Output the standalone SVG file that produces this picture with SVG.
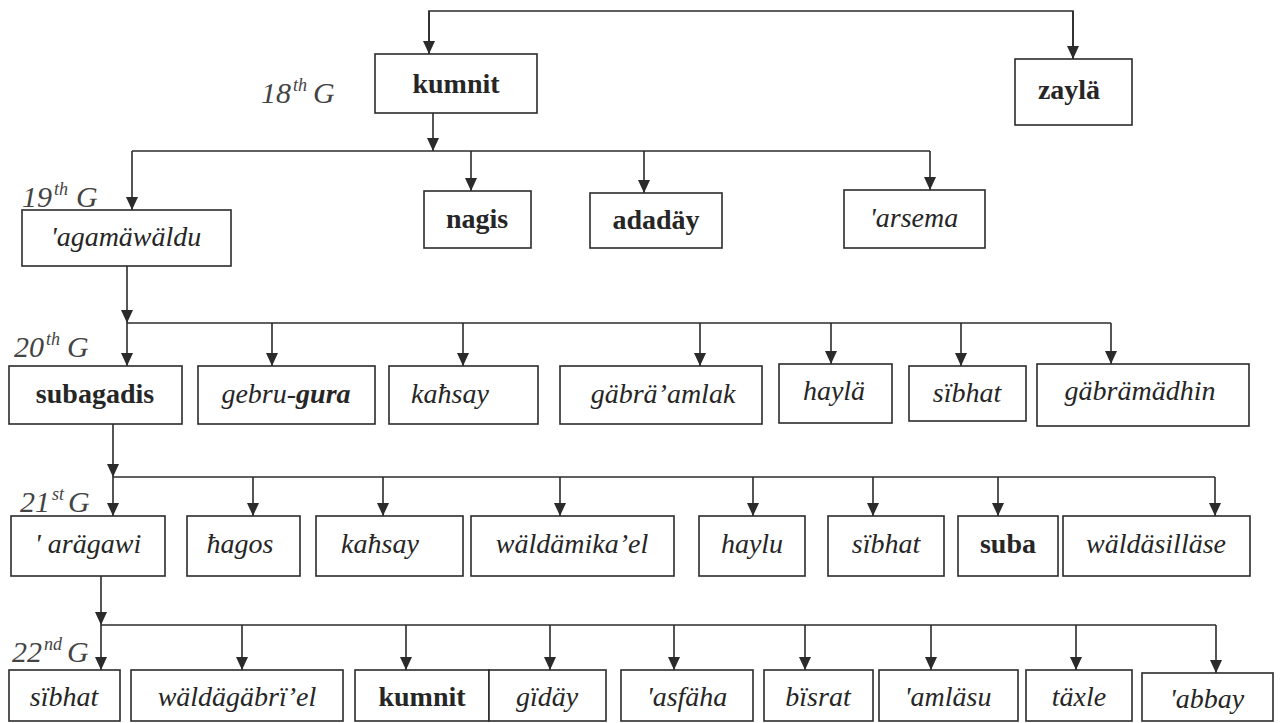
<svg xmlns="http://www.w3.org/2000/svg" width="1282" height="723" viewBox="0 0 1282 723">
<defs>
<marker id="ah" viewBox="0 0 13 12" markerWidth="13" markerHeight="12" refX="13" refY="6" orient="auto" markerUnits="userSpaceOnUse">
<path d="M0,0 L13,6 L0,12 z" fill="#2b2b2b"/>
</marker>
<style>
.b{fill:#fff;stroke:#2b2b2b;stroke-width:1.6}
.c{fill:none;stroke:#2b2b2b;stroke-width:1.6}
.a{fill:none;stroke:#2b2b2b;stroke-width:1.6;marker-end:url(#ah)}
text{font-family:"Liberation Serif","Times New Roman",serif;font-size:28px;fill:#262626;text-anchor:middle}
.bd{font-weight:bold}
.it{font-style:italic}
.lbl{font-style:italic;text-anchor:start;fill:#444;font-size:30px}
.sup{font-style:italic;text-anchor:start;fill:#444;font-size:18px}
</style>
</defs>
<rect width="1282" height="723" fill="#fff"/>
<g id="connectors">
<path class="c" d="M429,54 V11 H1073 V59"/>
<line class="a" x1="429" y1="11" x2="429" y2="54"/>
<line class="a" x1="1073" y1="11" x2="1073" y2="59"/>
<line class="a" x1="433" y1="113" x2="433" y2="151"/>
<line class="c" x1="132" y1="151" x2="930" y2="151"/>
<line class="a" x1="132" y1="151" x2="132" y2="210"/>
<line class="a" x1="471" y1="151" x2="471" y2="191"/>
<line class="a" x1="644" y1="151" x2="644" y2="193"/>
<line class="a" x1="930" y1="151" x2="930" y2="190"/>
<line class="a" x1="127" y1="266" x2="127" y2="323"/>
<line class="c" x1="127" y1="323" x2="1111" y2="323"/>
<line class="a" x1="127" y1="323" x2="127" y2="366"/>
<line class="a" x1="272" y1="323" x2="272" y2="366"/>
<line class="a" x1="463" y1="323" x2="463" y2="366"/>
<line class="a" x1="700" y1="323" x2="700" y2="366"/>
<line class="a" x1="831" y1="323" x2="831" y2="364"/>
<line class="a" x1="961" y1="323" x2="961" y2="366"/>
<line class="a" x1="1111" y1="323" x2="1111" y2="364"/>
<line class="a" x1="113" y1="424" x2="113" y2="477"/>
<line class="c" x1="113" y1="477" x2="1215" y2="477"/>
<line class="a" x1="113" y1="477" x2="113" y2="516"/>
<line class="a" x1="253" y1="477" x2="253" y2="516"/>
<line class="a" x1="383" y1="477" x2="383" y2="516"/>
<line class="a" x1="560" y1="477" x2="560" y2="516"/>
<line class="a" x1="753" y1="477" x2="753" y2="516"/>
<line class="a" x1="873" y1="477" x2="873" y2="516"/>
<line class="a" x1="998" y1="477" x2="998" y2="516"/>
<line class="a" x1="1215" y1="477" x2="1215" y2="516"/>
<line class="a" x1="101" y1="576" x2="101" y2="625"/>
<line class="c" x1="101" y1="625" x2="1216" y2="625"/>
<line class="a" x1="101" y1="625" x2="101" y2="670"/>
<line class="a" x1="242" y1="625" x2="242" y2="670"/>
<line class="a" x1="406" y1="625" x2="406" y2="670"/>
<line class="a" x1="550" y1="625" x2="550" y2="670"/>
<line class="a" x1="674" y1="625" x2="674" y2="670"/>
<line class="a" x1="805" y1="625" x2="805" y2="670"/>
<line class="a" x1="931" y1="625" x2="931" y2="670"/>
<line class="a" x1="1076" y1="625" x2="1076" y2="670"/>
<line class="a" x1="1216" y1="625" x2="1216" y2="673"/>
</g>
<g id="labels">
<g id="lbl18"><text class="lbl" x="261" y="103">18</text><text class="sup" x="293" y="91">th</text><text class="lbl" x="313" y="103">G</text></g>
<g id="lbl19"><text class="lbl" x="22" y="207">19</text><text class="sup" x="54" y="195">th</text><text class="lbl" x="76" y="207">G</text></g>
<g id="lbl20"><text class="lbl" x="14" y="357">20</text><text class="sup" x="46" y="345">th</text><text class="lbl" x="67" y="357">G</text></g>
<g id="lbl21"><text class="lbl" x="20" y="512">21</text><text class="sup" x="52" y="500">st</text><text class="lbl" x="68" y="512">G</text></g>
<g id="lbl22"><text class="lbl" x="12" y="662">22</text><text class="sup" x="44" y="650">nd</text><text class="lbl" x="67" y="662">G</text></g>
</g>
<g id="n-kumnit18"><rect class="b" x="375" y="54" width="162" height="59"/><text class="bd" x="456" y="93">kumnit</text></g>
<g id="n-zayla"><rect class="b" x="1015" y="59" width="117" height="66"/><text class="bd" x="1069" y="99">zaylä</text></g>
<g id="n-agamawaldu"><rect class="b" x="22" y="210" width="209" height="56"/><text class="it" x="126" y="246">'agamäwäldu</text></g>
<g id="n-nagis"><rect class="b" x="424" y="191" width="107" height="57"/><text class="bd" x="477" y="228">nagis</text></g>
<g id="n-adaday"><rect class="b" x="590" y="193" width="132" height="55"/><text class="bd" x="656" y="229">adadäy</text></g>
<g id="n-arsema"><rect class="b" x="844" y="190" width="141" height="58"/><text class="it" x="914" y="227">'arsema</text></g>
<g id="n-subagadis"><rect class="b" x="9" y="366" width="173" height="58"/><text class="bd" x="95" y="403">subagadis</text></g>
<g id="n-gebrugura"><rect class="b" x="198" y="366" width="177" height="58"/><text class="it" x="286" y="403">gebru-<tspan class="bd">gura</tspan></text></g>
<g id="n-kahsay20"><rect class="b" x="389" y="366" width="149" height="58"/><text class="it" x="450" y="403">kaħsay</text></g>
<g id="n-gabraamlak"><rect class="b" x="560" y="366" width="202" height="58"/><text class="it" x="663" y="403">gäbrä’amlak</text></g>
<g id="n-hayla"><rect class="b" x="779" y="364" width="113" height="59"/><text class="it" x="834" y="400">haylä</text></g>
<g id="n-sibhat20"><rect class="b" x="909" y="366" width="117" height="55"/><text class="it" x="967" y="402">sïbhat</text></g>
<g id="n-gabramadhin"><rect class="b" x="1037" y="364" width="212" height="62"/><text class="it" x="1140" y="400">gäbrämädhin</text></g>
<g id="n-aragawi"><rect class="b" x="11" y="516" width="154" height="60"/><text class="it" x="88" y="553">' arägawi</text></g>
<g id="n-hagos"><rect class="b" x="187" y="516" width="113" height="60"/><text class="it" x="240" y="553">ħagos</text></g>
<g id="n-kahsay21"><rect class="b" x="316" y="516" width="147" height="60"/><text class="it" x="380" y="553">kaħsay</text></g>
<g id="n-waldamikael"><rect class="b" x="471" y="516" width="203" height="60"/><text class="it" x="572" y="553">wäldämika’el</text></g>
<g id="n-haylu"><rect class="b" x="699" y="516" width="106" height="60"/><text class="it" x="752" y="553">haylu</text></g>
<g id="n-sibhat21"><rect class="b" x="828" y="516" width="116" height="60"/><text class="it" x="886" y="553">sïbhat</text></g>
<g id="n-suba"><rect class="b" x="958" y="516" width="100" height="60"/><text class="bd" x="1008" y="553">suba</text></g>
<g id="n-waldasillase"><rect class="b" x="1063" y="516" width="187" height="60"/><text class="it" x="1156" y="553">wäldäsilläse</text></g>
<g id="n-sibhat22"><rect class="b" x="9" y="670" width="111" height="51"/><text class="it" x="64" y="706">sïbhat</text></g>
<g id="n-waldagabriel"><rect class="b" x="131" y="670" width="212" height="51"/><text class="it" x="237" y="706">wäldägäbrï’el</text></g>
<g id="n-kumnit22"><rect class="b" x="355" y="670" width="134" height="51"/><text class="bd" x="422" y="706">kumnit</text></g>
<g id="n-giday"><rect class="b" x="489" y="670" width="117" height="51"/><text class="it" x="547" y="706">gïdäy</text></g>
<g id="n-asfaha"><rect class="b" x="621" y="670" width="132" height="51"/><text class="it" x="687" y="706">'asfäha</text></g>
<g id="n-bisrat"><rect class="b" x="764" y="670" width="109" height="51"/><text class="it" x="818" y="706">bïsrat</text></g>
<g id="n-amlasu"><rect class="b" x="879" y="670" width="139" height="51"/><text class="it" x="948" y="706">'amläsu</text></g>
<g id="n-taxle"><rect class="b" x="1026" y="670" width="106" height="51"/><text class="it" x="1079" y="706">täxle</text></g>
<g id="n-abbay"><rect class="b" x="1142" y="673" width="131" height="48"/><text class="it" x="1207" y="708">'abbay</text></g>
</svg>
